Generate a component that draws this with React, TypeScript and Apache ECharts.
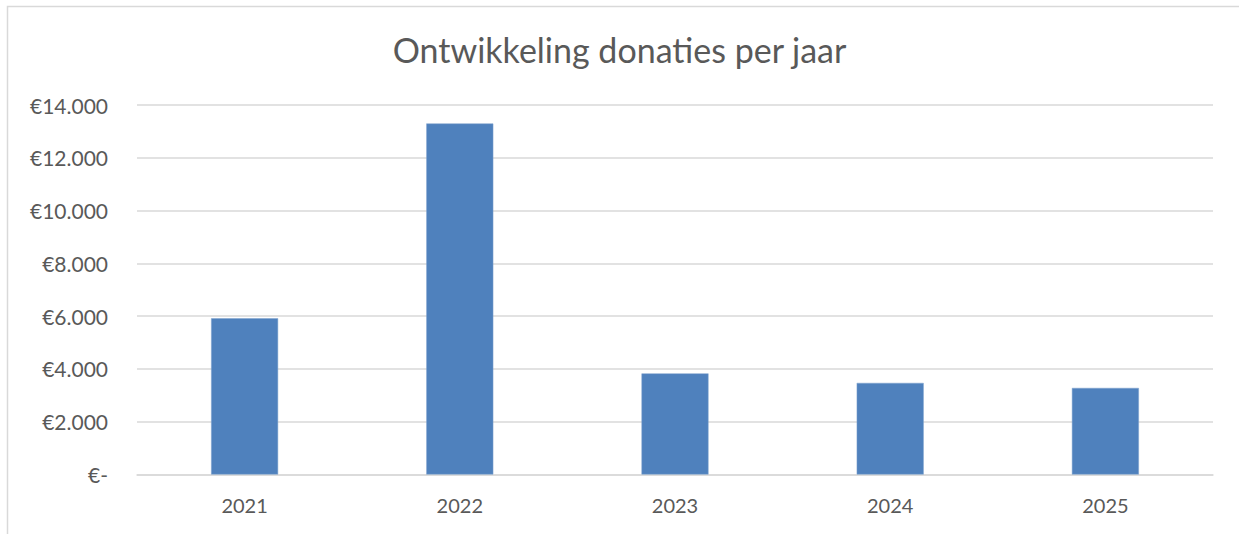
import React, { useEffect, useRef } from "react";
import * as echarts from "echarts";

const years = ["2021", "2022", "2023", "2024", "2025"];
const donations = [5920, 13300, 3830, 3470, 3280];
const yTicks = { min: 0, max: 14000, interval: 2000 };
const title = "Ontwikkeling donaties per jaar";

function euro(v: number): string {
  if (v === 0) return "€-";
  return "€" + String(v).replace(/\B(?=(\d{3})+(?!\d))/g, ".");
}

export default function App() {
  const ref = useRef<HTMLDivElement>(null);
  useEffect(() => {
    if (!ref.current) return;
    const chart = echarts.init(ref.current, undefined, { renderer: "svg" });
    const font = "Lato, 'Open Sans', sans-serif";
    chart.setOption({
      animation: false,
      backgroundColor: "#ffffff",
      textStyle: { fontFamily: font },
      title: {
        text: title,
        left: "center",
        top: 27,
        textStyle: { fontFamily: font, fontSize: 34, fontWeight: "normal", color: "#595959" },
      },
      graphic: [
        {
          type: "rect",
          shape: { x: 7.5, y: 6.5, width: 1400, height: 700 },
          style: { fill: "none", stroke: "#d9d9d9", lineWidth: 1.5 },
          silent: true,
        },
      ],
      grid: { left: 137, right: 26, top: 105, bottom: 59.5, containLabel: false },
      xAxis: {
        type: "category",
        data: years,
        axisLine: { show: true, lineStyle: { color: "#d9d9d9", width: 1.5 } },
        axisTick: { show: false },
        axisLabel: { color: "#595959", fontSize: 20, margin: 20, fontFamily: font },
      },
      yAxis: {
        type: "value",
        min: yTicks.min,
        max: yTicks.max,
        interval: yTicks.interval,
        axisLine: { show: false },
        axisTick: { show: false },
        splitLine: { lineStyle: { color: "#d9d9d9", width: 1.5 } },
        axisLabel: {
          color: "#595959",
          fontSize: 21,
          margin: 29,
          fontFamily: font,
          formatter: (v: number) => euro(v),
        },
      },
      series: [
        {
          type: "bar",
          data: donations,
          barWidth: 67,
          itemStyle: { color: "#4f81bd", borderColor: "#7fa3cf", borderWidth: 0.5 },
        },
      ],
    });
    return () => chart.dispose();
  }, []);
  return (
    <div
      ref={ref}
      style={{ position: "fixed", left: 0, top: 0, width: 1239, height: 534 }}
    />
  );
}
